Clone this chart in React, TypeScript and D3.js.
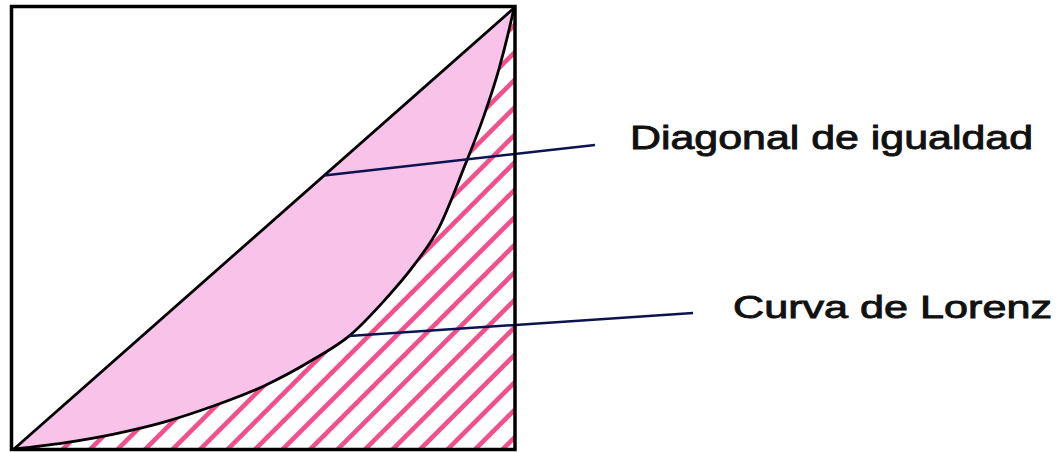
import React from 'react';
import * as d3 from 'd3';

// Lorenz curve: cumulative % of population vs cumulative % of income
const populationShare = [0, 10, 20, 30, 40, 50, 60, 67, 74, 80, 85, 90, 94, 97, 99, 100];
const incomeShare = [0, 1.4, 3.4, 6.1, 9.8, 14.3, 20.4, 25.6, 33.6, 41.7, 50.2, 63.8, 75.6, 86.2, 95.0, 100];
const equalityShare = [0, 100];
const labels = ['Diagonal de igualdad', 'Curva de Lorenz'];
const diagonalAnchorShare = 62; // where the leader line touches the diagonal
const lorenzAnchorIndex = 7; // point on the Lorenz curve the leader touches

const W = 1062;
const H = 452;

export default function App() {
  const x = d3.scaleLinear().domain([0, 100]).range([14, 514]);
  const y = d3.scaleLinear().domain([0, 100]).range([449, 8]);

  const pts = populationShare.map((p, i) => ({ p, v: incomeShare[i] }));

  const lorenzLine = d3
    .line<{ p: number; v: number }>()
    .x((d) => x(d.p))
    .y((d) => y(d.v))
    .curve(d3.curveMonotoneX);

  const diagLine = d3
    .line<number>()
    .x((d) => x(d))
    .y((d) => y(d));

  const gapArea = d3
    .area<{ p: number; v: number }>()
    .x((d) => x(d.p))
    .y0((d) => y(d.v))
    .y1((d) => y(d.p))
    .curve(d3.curveMonotoneX);

  const belowArea = d3
    .area<{ p: number; v: number }>()
    .x((d) => x(d.p))
    .y0(() => y(0))
    .y1((d) => y(d.v))
    .curve(d3.curveMonotoneX);

  // hatch stripes at 45°, horizontal spacing 27.5px
  const spacing = 27.5;
  const phase = 25.5;
  const x0 = x(0);
  const x1 = x(100);
  const yb = y(0);
  const span = yb - y(100);
  const starts = d3
    .range(Math.floor((x0 - span - phase) / spacing), Math.ceil((x1 - phase) / spacing) + 1)
    .map((k) => phase + k * spacing);

  const diagAnchor = { x: x(diagonalAnchorShare), y: y(diagonalAnchorShare) };
  const lorAnchor = { x: x(populationShare[lorenzAnchorIndex]), y: y(incomeShare[lorenzAnchorIndex]) };

  const fontFamily = '"Liberation Sans", Arial, Helvetica, sans-serif';

  return (
    <svg
      width={W}
      height={H}
      viewBox={`0 0 ${W} ${H}`}
      style={{ position: 'absolute', left: 0, top: 0, display: 'block', background: '#fff' }}
    >
      <defs>
        <clipPath id="below">
          <path d={belowArea(pts) || ''} />
        </clipPath>
      </defs>
      <rect x={0} y={0} width={W} height={H} fill="#fff" />
      <path d={gapArea(pts) || ''} fill="#f9c2e8" stroke="none" />
      <g clipPath="url(#below)">
        {starts.map((s, i) => (
          <line key={i} x1={s} y1={yb + 10} x2={s + span + 20} y2={yb - span - 10} stroke="#f24f8c" strokeWidth={4.6} />
        ))}
      </g>
      <path d={diagLine(equalityShare) || ''} fill="none" stroke="#000" strokeWidth={2.8} />
      <path d={lorenzLine(pts) || ''} fill="none" stroke="#000" strokeWidth={2.8} />
      <line x1={diagAnchor.x} y1={diagAnchor.y} x2={595} y2={145} stroke="#0b1450" strokeWidth={2.5} />
      <line x1={lorAnchor.x} y1={lorAnchor.y} x2={693} y2={313} stroke="#0b1450" strokeWidth={2.5} />
      <rect x={11.5} y={6.5} width={503.5} height={443} fill="none" stroke="#000" strokeWidth={3.5} />
      <text
        x={630}
        y={149}
        fontFamily={fontFamily}
        fontSize={33}
        fill="#111"
        stroke="#111"
        strokeWidth={0.9}
        textLength={403}
        lengthAdjust="spacingAndGlyphs"
      >
        {labels[0]}
      </text>
      <text
        x={733}
        y={318}
        fontFamily={fontFamily}
        fontSize={32}
        fill="#111"
        stroke="#111"
        strokeWidth={0.9}
        textLength={319}
        lengthAdjust="spacingAndGlyphs"
      >
        {labels[1]}
      </text>
    </svg>
  );
}
